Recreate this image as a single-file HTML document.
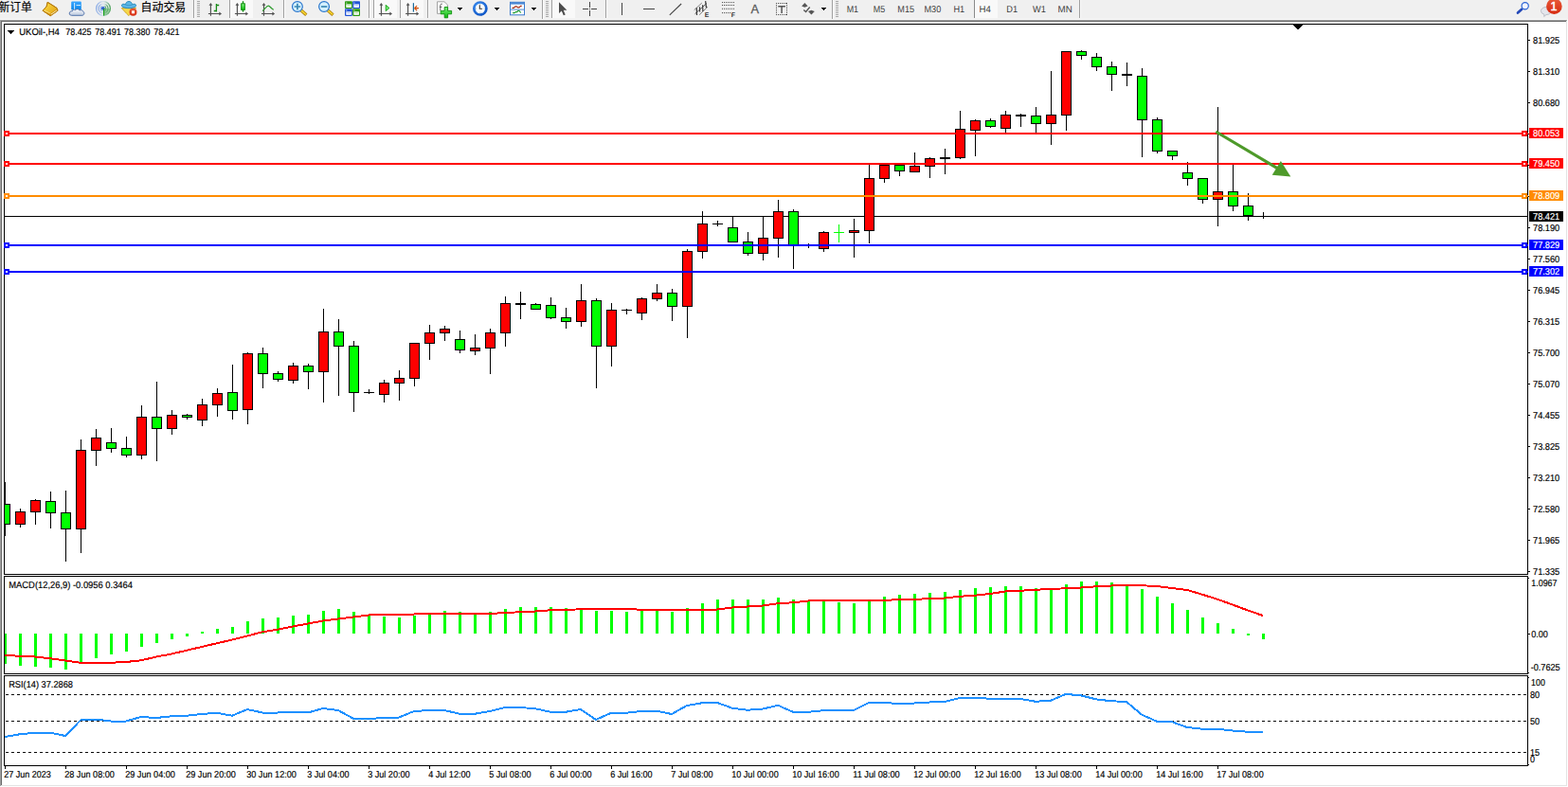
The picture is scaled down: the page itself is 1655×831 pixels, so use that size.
<!DOCTYPE html>
<html><head><meta charset="utf-8"><title>UKOil-,H4</title>
<style>
html,body{margin:0;padding:0;background:#f0f0f0;overflow:hidden}
body{width:1655px;height:831px;position:relative;font-family:"Liberation Sans", sans-serif}
svg{position:absolute;left:0;top:0;display:block}
.c text{font-family:"Liberation Sans", sans-serif;font-size:10px;fill:#000;stroke:#000;stroke-width:.18px;text-rendering:geometricPrecision}
.c text.w{fill:#fff;stroke:#fff}
</style></head><body>

<svg width="1655" height="21" viewBox="0 0 1655 21"><defs><linearGradient id="gy" x1="0" y1="0" x2="1" y2="1"><stop offset="0" stop-color="#ffe24a"/><stop offset="1" stop-color="#dc9a10"/></linearGradient><linearGradient id="gc" x1="0" y1="0" x2="0" y2="1"><stop offset="0" stop-color="#ffffff"/><stop offset="1" stop-color="#b9c6dc"/></linearGradient><linearGradient id="gb" x1="0" y1="0" x2="0" y2="1"><stop offset="0" stop-color="#3aa6ff"/><stop offset="1" stop-color="#0b86e8"/></linearGradient><linearGradient id="gg" x1="0" y1="0" x2="0" y2="1"><stop offset="0" stop-color="#7df07d"/><stop offset="1" stop-color="#08b808"/></linearGradient><linearGradient id="gr" x1="0" y1="0" x2="0" y2="1"><stop offset="0" stop-color="#e85a3a"/><stop offset="1" stop-color="#d62a10"/></linearGradient><radialGradient id="gk" cx="0.4" cy="0.35" r="0.8"><stop offset="0" stop-color="#4aa0ff"/><stop offset="1" stop-color="#0a4fc0"/></radialGradient><linearGradient id="gs" x1="0" y1="0" x2="1" y2="0"><stop offset="0" stop-color="#5a8ae0" stop-opacity=".7"/><stop offset=".5" stop-color="#b8d0e8" stop-opacity=".5"/><stop offset="1" stop-color="#3a9a4a" stop-opacity=".9"/></linearGradient></defs><rect width="1655" height="21" fill="#f0f0f0"/><text x="-1.6" y="12.4" font-family="&quot;Liberation Sans&quot;, &quot;Noto Sans CJK SC&quot;, sans-serif" font-size="12" fill="#000" stroke="#000" stroke-width=".17" textLength="35.4" lengthAdjust="spacingAndGlyphs">新订单</text><text x="148.6" y="12.4" font-family="&quot;Liberation Sans&quot;, &quot;Noto Sans CJK SC&quot;, sans-serif" font-size="12" fill="#000" stroke="#000" stroke-width=".17" textLength="47.6" lengthAdjust="spacingAndGlyphs">自动交易</text><path d="M50.2 2.3L59.9 8.4L61 11.2L53.2 16.7L45.1 11.2L49.1 6.8z" fill="url(#gy)" stroke="#b47a0c" stroke-width="1" stroke-linejoin="round"/><path d="M45.4 10.9L53.200 14.300L60.300 9.200L61 11.200L53.200 16.700z" fill="#d8960e"/><path d="M54 15.300L60.200 10.900" fill="none" stroke="#f8ecb8" stroke-width="1.100"/><path d="M46 10.700L53.200 14.200" fill="none" stroke="#fff0a0" stroke-width=".8" opacity=".9"/><path d="M50.200 2.300L59.900 8.400L61 11.200L53.200 16.700L45.100 11.200L49.100 6.800z" fill="none" stroke="#b47a0c" stroke-width=".9" stroke-linejoin="round"/><rect x="75.2" y="1.5" width="10.6" height="9" rx="1" fill="url(#gb)"/><path d="M78.6 3v7M80.5 5.6h4.5" stroke="#e8f6ff" stroke-width=".9" fill="none"/><path d="M75.6 16.3c-2.2 0-3-2-2-3.4c.6-1 1.8-1.3 2.6-1c.3-1.5 2.2-2.2 3.5-1.300c1-1.500 3.600-1.400 4.300.4c1.400-.9 3.300-.2 3.800 1.300c1.500.5 1.500 3.500-.9 4z" fill="url(#gc)" stroke="#4468a4" stroke-width=".9"/><g fill="none" stroke="url(#gs)"><circle cx="109" cy="9" r="7.4" stroke-width="1.2"/><circle cx="109" cy="9" r="5" stroke-width="1.2"/><circle cx="109" cy="9" r="2.8" stroke-width="1.1"/></g><path d="M109.5 9L116.600 9A7.600 7.600 0 0 1 109.500 16.600z" fill="#58b060" opacity=".55"/><circle cx="108.8" cy="8.8" r="1.9" fill="#2a5fd0"/><rect x="109" y="9" width="1.2" height="7.6" fill="#18a018"/><path d="M128.3 8.6L143.600 8.300L139 13.500L136 16.600L133.500 14.200z" fill="#f7d84a" stroke="#c89a10" stroke-width=".8"/><path d="M128.400 5.700c.2-1.600 2.200-1.900 4.100-.9c.2-2 1.500-3.300 3.500-3.300c2 0 3.300 1.300 3.500 3.300c1.900-1 3.900-.7 4.100.9c.2 1.700-3.500 3-7.600 3c-4.100 0-7.800-1.300-7.600-3z" fill="#5cb6e6" stroke="#2484b8" stroke-width=".9"/><path d="M132.600 5c1 .9 5.800.9 6.800 0" fill="none" stroke="#2484b8" stroke-width=".7" opacity=".8"/><circle cx="140.500" cy="12.800" r="4" fill="url(#gr)"/><rect x="139" y="11.300" width="3" height="3" fill="#fff"/><rect x="204" y="0" width="1" height="19" fill="#a0a0a0"/><rect x="205" y="0" width="1" height="19" fill="#fbfbfb"/><rect x="208" y="1" width="3" height="1" fill="#a8a8a8"/><rect x="208" y="3" width="3" height="1" fill="#a8a8a8"/><rect x="208" y="5" width="3" height="1" fill="#a8a8a8"/><rect x="208" y="7" width="3" height="1" fill="#a8a8a8"/><rect x="208" y="9" width="3" height="1" fill="#a8a8a8"/><rect x="208" y="11" width="3" height="1" fill="#a8a8a8"/><rect x="208" y="13" width="3" height="1" fill="#a8a8a8"/><rect x="208" y="15" width="3" height="1" fill="#a8a8a8"/><rect x="208" y="17" width="3" height="1" fill="#a8a8a8"/><g fill="none" stroke="#505050" stroke-width="1.15"><path d="M222.4 4.4V16.800M219.9 14.500H232.4"/></g><path d="M222.4 3l1.900 2.700h-3.800zM234.0 14.500l-2.700 1.900v-3.800z" fill="#505050"/><path d="M228.400 4v8.600M228.400 5.500h2.800M225.800 11.500h2.600" stroke="#188a18" stroke-width="1.300" fill="none"/><rect x="242" y="0" width="1" height="19" fill="#a0a0a0"/><rect x="243" y="0" width="1" height="19" fill="#fbfbfb"/><rect x="244" y="0" width="23" height="19" fill="#f9f9f9"/><g fill="none" stroke="#505050" stroke-width="1.15"><path d="M250.4 4.4V16.800M247.9 14.500H260.4"/></g><path d="M250.4 3l1.900 2.700h-3.800zM262.0 14.500l-2.700 1.900v-3.800z" fill="#505050"/><path d="M256.500 1.200v11.400" stroke="#0a8a0a" stroke-width="1.300"/><rect x="254.600" y="3.800" width="3.800" height="6.600" fill="url(#gg)" stroke="#0a8a0a" stroke-width=".9"/><g fill="none" stroke="#505050" stroke-width="1.15"><path d="M278.5 4.4V16.800M276.0 14.500H288.5"/></g><path d="M278.5 3l1.900 2.700h-3.800zM290.1 14.500l-2.700 1.900v-3.800z" fill="#505050"/><path d="M277.100 11.600C280 9 281.500 6.200 283.300 6.200C285 6.200 286.500 9.500 288.800 10.300" stroke="#2a9a2a" stroke-width="1.200" fill="none"/><rect x="299" y="0" width="1" height="19" fill="#a0a0a0"/><rect x="300" y="0" width="1" height="19" fill="#fbfbfb"/><path d="M317.4 10.500l5.900 5.200" stroke="#a87808" stroke-width="3.300"/><path d="M317.4 10.500l5.600 4.900" stroke="#f4d22e" stroke-width="1.900"/><circle cx="313.90" cy="7" r="5.400" fill="#d4f0ff" stroke="#2a76cc" stroke-width="1.200"/><path d="M310.7 7h6.400M313.9 3.800v6.400" stroke="#3a88b4" stroke-width="1.700" fill="none"/><path d="M345.6 10.500l5.900 5.200" stroke="#a87808" stroke-width="3.300"/><path d="M345.6 10.500l5.600 4.900" stroke="#f4d22e" stroke-width="1.900"/><circle cx="342.05" cy="7" r="5.400" fill="#d4f0ff" stroke="#2a76cc" stroke-width="1.200"/><path d="M338.9 7h6.400" stroke="#3a88b4" stroke-width="1.700" fill="none"/><rect x="364.0" y="1.3" width="7.900" height="7.700" rx=".8" fill="#2d9a12"/><rect x="365.3" y="4.4" width="5.500" height="3.500" fill="#fff"/><rect x="366.4" y="5.4" width="3.300" height=".9" fill="#a8e090"/><rect x="365.3" y="2.6" width="1" height="1" fill="#fff" opacity=".9"/><rect x="372.1" y="1.3" width="7.900" height="7.700" rx=".8" fill="#2254d6"/><rect x="373.4" y="4.4" width="5.500" height="3.500" fill="#fff"/><rect x="374.5" y="5.4" width="3.300" height=".9" fill="#a0b8f4"/><rect x="373.4" y="2.6" width="1" height="1" fill="#fff" opacity=".9"/><rect x="364.0" y="9.2" width="7.900" height="7.700" rx=".8" fill="#2254d6"/><rect x="365.3" y="12.3" width="5.500" height="3.500" fill="#fff"/><rect x="366.4" y="13.3" width="3.300" height=".9" fill="#a0b8f4"/><rect x="365.3" y="10.5" width="1" height="1" fill="#fff" opacity=".9"/><rect x="372.1" y="9.2" width="7.900" height="7.700" rx=".8" fill="#2d9a12"/><rect x="373.4" y="12.3" width="5.500" height="3.500" fill="#fff"/><rect x="374.5" y="13.3" width="3.300" height=".9" fill="#a8e090"/><rect x="373.4" y="10.5" width="1" height="1" fill="#fff" opacity=".9"/><rect x="389" y="0" width="1" height="19" fill="#a0a0a0"/><rect x="390" y="0" width="1" height="19" fill="#fbfbfb"/><rect x="394" y="0" width="1" height="19" fill="#a0a0a0"/><rect x="395" y="0" width="1" height="19" fill="#fbfbfb"/><rect x="396" y="0" width="23" height="19" fill="#f9f9f9"/><g fill="none" stroke="#505050" stroke-width="1.15"><path d="M402.4 4.4V16.800M399.9 14.500H412.4"/></g><path d="M402.4 3l1.900 2.700h-3.800zM414.0 14.500l-2.700 1.900v-3.800z" fill="#505050"/><path d="M407.200 5.300v6.300l3.700-3.100z" fill="#6fe86f" stroke="#12a012" stroke-width=".9"/><rect x="422" y="0" width="1" height="19" fill="#a0a0a0"/><rect x="423" y="0" width="1" height="19" fill="#fbfbfb"/><rect x="424" y="0" width="23" height="19" fill="#f9f9f9"/><g fill="none" stroke="#505050" stroke-width="1.15"><path d="M430.6 4.4V16.800M428.1 14.500H440.6"/></g><path d="M430.6 3l1.900 2.700h-3.800zM442.2 14.500l-2.700 1.900v-3.800z" fill="#505050"/><rect x="435.800" y="3.200" width="1.200" height="9.400" fill="#1a6a9a"/><path d="M437.400 8.600h4.500M437.400 8.600l2.700-2.500M437.400 8.600l2.700 2.500" stroke="#d24a00" stroke-width="1.200" fill="none"/><rect x="451" y="0" width="1" height="19" fill="#a0a0a0"/><rect x="452" y="0" width="1" height="19" fill="#fbfbfb"/><path d="M461.500 1.800h7.500l3.500 3.300v9.300h-11z" fill="#fdfdfd" stroke="#9a9a9a" stroke-width=".9"/><path d="M466.800 4.200c-1.400-.3-2 .4-2 1.600v5.500M463.800 7.400h2.500" stroke="#555" stroke-width=".9" fill="none"/><path d="M469.200 7.500h3.400v3.900h4v3.400h-4v4h-3.400v-4h-4v-3.400h4z" fill="url(#gg)" stroke="#0a900a" stroke-width=".9"/><path d="M483 8h5v1h-1v1h-1v1h-1v-1h-1v-1h-1z" fill="#000" shape-rendering="crispEdges"/><circle cx="506.850" cy="9" r="6.500" fill="#fdfdfd" stroke="url(#gk)" stroke-width="2.700"/><path d="M506.300 5.200v4h2.800" stroke="#333" stroke-width="1.100" fill="none"/><g fill="#8aa"><rect x="506.400" y="4.300" width=".9" height=".9"/><rect x="506.400" y="12.800" width=".9" height=".9"/><rect x="502.200" y="8.600" width=".9" height=".9"/><rect x="510.600" y="8.600" width=".9" height=".9"/></g><path d="M522 8h5v1h-1v1h-1v1h-1v-1h-1v-1h-1z" fill="#000" shape-rendering="crispEdges"/><rect x="538.500" y="2.300" width="15" height="13.500" fill="#fff" stroke="#3a7acc" stroke-width="1"/><rect x="538.500" y="2.300" width="15" height="2.300" fill="#4a88d4"/><rect x="538.500" y="9.600" width="15" height="1" fill="#4a88d4"/><path d="M540.500 8.400h1.800l1.500-1.500h1.500l1.300 1h1.400l1.500-1.500h1.200" stroke="#a82a10" stroke-width="1.100" fill="none"/><path d="M541.200 13.600h1.800l1.300-1h1.400l1.200-1.300h1l1.900 2.200" stroke="#1a9a2a" stroke-width="1.100" fill="none"/><path d="M561 8h5v1h-1v1h-1v1h-1v-1h-1v-1h-1z" fill="#000" shape-rendering="crispEdges"/><rect x="572" y="0" width="1" height="21" fill="#a0a0a0"/><rect x="573" y="0" width="1" height="21" fill="#fbfbfb"/><rect x="576" y="1" width="3" height="1" fill="#a8a8a8"/><rect x="576" y="3" width="3" height="1" fill="#a8a8a8"/><rect x="576" y="5" width="3" height="1" fill="#a8a8a8"/><rect x="576" y="7" width="3" height="1" fill="#a8a8a8"/><rect x="576" y="9" width="3" height="1" fill="#a8a8a8"/><rect x="576" y="11" width="3" height="1" fill="#a8a8a8"/><rect x="576" y="13" width="3" height="1" fill="#a8a8a8"/><rect x="576" y="15" width="3" height="1" fill="#a8a8a8"/><rect x="576" y="17" width="3" height="1" fill="#a8a8a8"/><rect x="582" y="0" width="1" height="19" fill="#a0a0a0"/><rect x="583" y="0" width="1" height="19" fill="#fbfbfb"/><rect x="584" y="0" width="23" height="19" fill="#f9f9f9"/><path d="M590 2.200v11.800l2.800-2.600l2 4.800l1.900-.8l-2-4.700h3.700z" fill="#4c4c4c"/><path d="M615 9.500h6M624 9.500h6M622.500 2v6M622.500 11v6" stroke="#444" stroke-width="1"/><rect x="622" y="9" width="1" height="1" fill="#444"/><rect x="639" y="0" width="1" height="19" fill="#a0a0a0"/><rect x="640" y="0" width="1" height="19" fill="#fbfbfb"/><rect x="656" y="3" width="1" height="13" fill="#444"/><rect x="679" y="9" width="12" height="1" fill="#444"/><path d="M706.800 15.900L719.100 4" stroke="#444" stroke-width="1.100"/><g fill="none"><path d="M732.700 10.600L740.800 3.100M738.100 15.700L747 7.200" stroke="#5a5a5a" stroke-width=".75"/><path d="M733.600 14.600L746 3.400" stroke="#484848" stroke-width=".9"/><path d="M735.300 8.200L735.500 15.900M738.500 7.200L738.600 12.500M741.600 5.200L741.900 12M744.600 1.100L745.500 8.200" stroke="#3c3c3c" stroke-width="1.250"/></g><text x="743.700" y="17.900" font-family="Liberation Sans,sans-serif" font-weight="bold" font-size="6.800" fill="#333" style="text-rendering:geometricPrecision">E</text><path d="M762 2.6H775" stroke="#444" stroke-width="1" stroke-dasharray="1 1"/><path d="M762 5.5H775" stroke="#444" stroke-width="1" stroke-dasharray="1 1"/><path d="M762 9.3H775" stroke="#444" stroke-width="1" stroke-dasharray="1 1"/><path d="M762 13.6H771" stroke="#444" stroke-width="1" stroke-dasharray="1 1"/><text x="771.800" y="17.900" font-family="Liberation Sans,sans-serif" font-weight="bold" font-size="6.800" fill="#333" style="text-rendering:geometricPrecision">F</text><text x="792.400" y="13.900" font-family="Liberation Sans,sans-serif" font-size="12.800" fill="#5a5a5a" stroke="#5a5a5a" stroke-width=".3">A</text><path d="M819 3.500H831M819 15.500H831M819.500 3V16M830.500 3V16" fill="none" stroke="#4a4a4a" stroke-width="1" stroke-dasharray="1 1" shape-rendering="crispEdges"/><path d="M821.300 6.700h7.600M825.100 6.700v7.200" stroke="#555" stroke-width="1.500" fill="none"/><path d="M846.200 6.500l3.200-3.500l3.200 3.500l-3.200 1.200z" fill="#555"/><path d="M853 12l3.400-1.200l3.400 1.200l-3.400 3.600z" fill="#555"/><path d="M848.300 10.400l2.300 2.100l4.100-5" stroke="#555" stroke-width="1.300" fill="none"/><path d="M867 8h5v1h-1v1h-1v1h-1v-1h-1v-1h-1z" fill="#000" shape-rendering="crispEdges"/><rect x="878" y="0" width="1" height="21" fill="#a0a0a0"/><rect x="879" y="0" width="1" height="21" fill="#fbfbfb"/><rect x="882" y="1" width="3" height="1" fill="#a8a8a8"/><rect x="882" y="3" width="3" height="1" fill="#a8a8a8"/><rect x="882" y="5" width="3" height="1" fill="#a8a8a8"/><rect x="882" y="7" width="3" height="1" fill="#a8a8a8"/><rect x="882" y="9" width="3" height="1" fill="#a8a8a8"/><rect x="882" y="11" width="3" height="1" fill="#a8a8a8"/><rect x="882" y="13" width="3" height="1" fill="#a8a8a8"/><rect x="882" y="15" width="3" height="1" fill="#a8a8a8"/><rect x="882" y="17" width="3" height="1" fill="#a8a8a8"/><rect x="1029" y="0" width="24" height="19" fill="#f9f9f9"/><rect x="1028" y="0" width="1" height="19" fill="#8a8a8a"/><text x="893.7" y="12.600" font-family="Liberation Sans,sans-serif" font-size="10" fill="#3c3c3c" style="text-rendering:geometricPrecision" textLength="12.4" lengthAdjust="spacingAndGlyphs">M1</text><text x="921.8" y="12.600" font-family="Liberation Sans,sans-serif" font-size="10" fill="#3c3c3c" style="text-rendering:geometricPrecision" textLength="12.4" lengthAdjust="spacingAndGlyphs">M5</text><text x="947.3" y="12.600" font-family="Liberation Sans,sans-serif" font-size="10" fill="#3c3c3c" style="text-rendering:geometricPrecision" textLength="17.7" lengthAdjust="spacingAndGlyphs">M15</text><text x="975.5" y="12.600" font-family="Liberation Sans,sans-serif" font-size="10" fill="#3c3c3c" style="text-rendering:geometricPrecision" textLength="17.8" lengthAdjust="spacingAndGlyphs">M30</text><text x="1006.4" y="12.600" font-family="Liberation Sans,sans-serif" font-size="10" fill="#3c3c3c" style="text-rendering:geometricPrecision" textLength="11.7" lengthAdjust="spacingAndGlyphs">H1</text><text x="1033.6" y="12.600" font-family="Liberation Sans,sans-serif" font-size="10" fill="#3c3c3c" style="text-rendering:geometricPrecision" textLength="12.3" lengthAdjust="spacingAndGlyphs">H4</text><text x="1062.3" y="12.600" font-family="Liberation Sans,sans-serif" font-size="10" fill="#3c3c3c" style="text-rendering:geometricPrecision" textLength="11.8" lengthAdjust="spacingAndGlyphs">D1</text><text x="1090.1" y="12.600" font-family="Liberation Sans,sans-serif" font-size="10" fill="#3c3c3c" style="text-rendering:geometricPrecision" textLength="13.8" lengthAdjust="spacingAndGlyphs">W1</text><text x="1116.6" y="12.600" font-family="Liberation Sans,sans-serif" font-size="10" fill="#3c3c3c" style="text-rendering:geometricPrecision" textLength="15.2" lengthAdjust="spacingAndGlyphs">MN</text><rect x="1139" y="0" width="1" height="19" fill="#a0a0a0"/><rect x="1140" y="0" width="1" height="19" fill="#fbfbfb"/><path d="M1606.200 9.700L1602 13.500" stroke="#2348b8" stroke-width="2.700" stroke-linecap="round"/><circle cx="1609.700" cy="6.300" r="3.600" fill="#f4f6ff" stroke="#2a62d4" stroke-width="1.200"/><path d="M1626.500 11.500a5.500 4 0 1 1 5.500 4l-2.300 2l.2-2.200a5.500 4 0 0 1-3.400-3.800z" fill="#e4e6ec" stroke="#b0b4bc" stroke-width=".8"/><circle cx="1640.400" cy="6.700" r="8.300" fill="url(#gr)"/><text x="1636.600" y="11" font-family="Liberation Sans,sans-serif" font-size="12.500" fill="#fff" stroke="#fff" stroke-width=".5">1</text></svg>
<svg class="c" width="1655" height="831" viewBox="0 0 1655 831">
<g shape-rendering="crispEdges">
<rect x="0" y="21" width="1655" height="810" fill="#fff"/>
<rect x="0" y="20" width="1655" height="1" fill="#f8f8f8"/>
<rect x="0" y="21" width="1654" height="1" fill="#a0a0a0"/>
<rect x="1" y="22" width="1653" height="1" fill="#696969"/>
<rect x="0" y="21" width="1" height="809" fill="#a0a0a0"/>
<rect x="1" y="22" width="1" height="807" fill="#696969"/>
<rect x="1653" y="22" width="1" height="808" fill="#e3e3e3"/>
<rect x="1" y="829" width="1653" height="1" fill="#e3e3e3"/>
<rect x="4" y="25" width="1609" height="1" fill="#000"/>
<rect x="4" y="606" width="1609" height="1" fill="#000"/>
<rect x="4" y="608" width="1609" height="1" fill="#000"/>
<rect x="4" y="711" width="1609" height="1" fill="#000"/>
<rect x="4" y="713" width="1609" height="1" fill="#000"/>
<rect x="4" y="808" width="1609" height="1" fill="#000"/>
<rect x="4" y="25" width="1" height="582" fill="#000"/>
<rect x="1612" y="25" width="1" height="582" fill="#000"/>
<rect x="4" y="608" width="1" height="104" fill="#000"/>
<rect x="1612" y="608" width="1" height="104" fill="#000"/>
<rect x="4" y="713" width="1" height="96" fill="#000"/>
<rect x="1612" y="713" width="1" height="96" fill="#000"/>
<rect x="1365" y="26" width="10" height="1" fill="#000"/>
<rect x="1366" y="27" width="8" height="1" fill="#000"/>
<rect x="1367" y="28" width="6" height="1" fill="#000"/>
<rect x="1368" y="29" width="4" height="1" fill="#000"/>
<rect x="1369" y="30" width="2" height="1" fill="#000"/>
<rect x="1613" y="42" width="2" height="1" fill="#000"/>
<rect x="1613" y="75" width="2" height="1" fill="#000"/>
<rect x="1613" y="108" width="2" height="1" fill="#000"/>
<rect x="1613" y="240" width="2" height="1" fill="#000"/>
<rect x="1613" y="273" width="2" height="1" fill="#000"/>
<rect x="1613" y="306" width="2" height="1" fill="#000"/>
<rect x="1613" y="339" width="2" height="1" fill="#000"/>
<rect x="1613" y="372" width="2" height="1" fill="#000"/>
<rect x="1613" y="405" width="2" height="1" fill="#000"/>
<rect x="1613" y="438" width="2" height="1" fill="#000"/>
<rect x="1613" y="471" width="2" height="1" fill="#000"/>
<rect x="1613" y="504" width="2" height="1" fill="#000"/>
<rect x="1613" y="537" width="2" height="1" fill="#000"/>
<rect x="1613" y="570" width="2" height="1" fill="#000"/>
<rect x="1613" y="603" width="2" height="1" fill="#000"/>
<rect x="1613" y="141" width="2" height="1" fill="#000"/>
<rect x="1613" y="174" width="2" height="1" fill="#000"/>
<rect x="1613" y="207" width="2" height="1" fill="#000"/>
<rect x="1613" y="610" width="1" height="1" fill="#000"/>
<rect x="1613" y="669" width="2" height="1" fill="#000"/>
<rect x="1613" y="710" width="1" height="1" fill="#000"/>
<rect x="1613" y="715" width="1" height="1" fill="#000"/>
<rect x="1613" y="807" width="1" height="1" fill="#000"/>
<rect x="5" y="228" width="1607" height="1" fill="#000"/>
<rect x="5" y="509" width="1" height="57" fill="#000"/>
<rect x="5" y="532" width="6" height="22" fill="#000"/>
<rect x="5" y="533" width="5" height="20" fill="#00ff00"/>
<rect x="21" y="537" width="1" height="20" fill="#000"/>
<rect x="16" y="540" width="11" height="14" fill="#000"/>
<rect x="17" y="541" width="9" height="12" fill="#ff0000"/>
<rect x="37" y="527" width="1" height="27" fill="#000"/>
<rect x="32" y="528" width="11" height="13" fill="#000"/>
<rect x="33" y="529" width="9" height="11" fill="#ff0000"/>
<rect x="53" y="519" width="1" height="39" fill="#000"/>
<rect x="48" y="529" width="11" height="13" fill="#000"/>
<rect x="49" y="530" width="9" height="11" fill="#00ff00"/>
<rect x="69" y="518" width="1" height="75" fill="#000"/>
<rect x="64" y="541" width="11" height="18" fill="#000"/>
<rect x="65" y="542" width="9" height="16" fill="#00ff00"/>
<rect x="85" y="464" width="1" height="120" fill="#000"/>
<rect x="80" y="475" width="11" height="84" fill="#000"/>
<rect x="81" y="476" width="9" height="82" fill="#ff0000"/>
<rect x="101" y="453" width="1" height="39" fill="#000"/>
<rect x="96" y="462" width="11" height="14" fill="#000"/>
<rect x="97" y="463" width="9" height="12" fill="#ff0000"/>
<rect x="117" y="452" width="1" height="26" fill="#000"/>
<rect x="112" y="467" width="11" height="7" fill="#000"/>
<rect x="113" y="468" width="9" height="5" fill="#00ff00"/>
<rect x="133" y="461" width="1" height="22" fill="#000"/>
<rect x="128" y="473" width="11" height="8" fill="#000"/>
<rect x="129" y="474" width="9" height="6" fill="#00ff00"/>
<rect x="149" y="428" width="1" height="57" fill="#000"/>
<rect x="144" y="440" width="11" height="41" fill="#000"/>
<rect x="145" y="441" width="9" height="39" fill="#ff0000"/>
<rect x="165" y="403" width="1" height="84" fill="#000"/>
<rect x="160" y="440" width="11" height="13" fill="#000"/>
<rect x="161" y="441" width="9" height="11" fill="#00ff00"/>
<rect x="181" y="433" width="1" height="26" fill="#000"/>
<rect x="176" y="438" width="11" height="15" fill="#000"/>
<rect x="177" y="439" width="9" height="13" fill="#ff0000"/>
<rect x="197" y="437" width="1" height="6" fill="#000"/>
<rect x="192" y="438" width="11" height="3" fill="#000"/>
<rect x="193" y="439" width="9" height="1" fill="#00ff00"/>
<rect x="213" y="421" width="1" height="29" fill="#000"/>
<rect x="208" y="427" width="11" height="17" fill="#000"/>
<rect x="209" y="428" width="9" height="15" fill="#ff0000"/>
<rect x="229" y="410" width="1" height="30" fill="#000"/>
<rect x="224" y="415" width="11" height="13" fill="#000"/>
<rect x="225" y="416" width="9" height="11" fill="#ff0000"/>
<rect x="245" y="385" width="1" height="58" fill="#000"/>
<rect x="240" y="414" width="11" height="20" fill="#000"/>
<rect x="241" y="415" width="9" height="18" fill="#00ff00"/>
<rect x="261" y="372" width="1" height="76" fill="#000"/>
<rect x="256" y="373" width="11" height="60" fill="#000"/>
<rect x="257" y="374" width="9" height="58" fill="#ff0000"/>
<rect x="277" y="367" width="1" height="43" fill="#000"/>
<rect x="272" y="373" width="11" height="22" fill="#000"/>
<rect x="273" y="374" width="9" height="20" fill="#00ff00"/>
<rect x="293" y="392" width="1" height="11" fill="#000"/>
<rect x="288" y="394" width="11" height="7" fill="#000"/>
<rect x="289" y="395" width="9" height="5" fill="#00ff00"/>
<rect x="309" y="383" width="1" height="22" fill="#000"/>
<rect x="304" y="386" width="11" height="16" fill="#000"/>
<rect x="305" y="387" width="9" height="14" fill="#ff0000"/>
<rect x="325" y="384" width="1" height="27" fill="#000"/>
<rect x="320" y="386" width="11" height="7" fill="#000"/>
<rect x="321" y="387" width="9" height="5" fill="#00ff00"/>
<rect x="341" y="326" width="1" height="99" fill="#000"/>
<rect x="336" y="350" width="11" height="43" fill="#000"/>
<rect x="337" y="351" width="9" height="41" fill="#ff0000"/>
<rect x="357" y="337" width="1" height="81" fill="#000"/>
<rect x="352" y="350" width="11" height="16" fill="#000"/>
<rect x="353" y="351" width="9" height="14" fill="#00ff00"/>
<rect x="373" y="360" width="1" height="75" fill="#000"/>
<rect x="368" y="365" width="11" height="50" fill="#000"/>
<rect x="369" y="366" width="9" height="48" fill="#00ff00"/>
<rect x="389" y="411" width="1" height="5" fill="#000"/>
<rect x="384" y="414" width="11" height="1" fill="#000"/>
<rect x="405" y="401" width="1" height="24" fill="#000"/>
<rect x="400" y="404" width="11" height="13" fill="#000"/>
<rect x="401" y="405" width="9" height="11" fill="#ff0000"/>
<rect x="421" y="391" width="1" height="32" fill="#000"/>
<rect x="416" y="399" width="11" height="6" fill="#000"/>
<rect x="417" y="400" width="9" height="4" fill="#ff0000"/>
<rect x="437" y="362" width="1" height="46" fill="#000"/>
<rect x="432" y="362" width="11" height="38" fill="#000"/>
<rect x="433" y="363" width="9" height="36" fill="#ff0000"/>
<rect x="453" y="343" width="1" height="37" fill="#000"/>
<rect x="448" y="351" width="11" height="12" fill="#000"/>
<rect x="449" y="352" width="9" height="10" fill="#ff0000"/>
<rect x="469" y="344" width="1" height="16" fill="#000"/>
<rect x="464" y="347" width="11" height="5" fill="#000"/>
<rect x="465" y="348" width="9" height="3" fill="#ff0000"/>
<rect x="485" y="349" width="1" height="24" fill="#000"/>
<rect x="480" y="358" width="11" height="12" fill="#000"/>
<rect x="481" y="359" width="9" height="10" fill="#00ff00"/>
<rect x="501" y="353" width="1" height="22" fill="#000"/>
<rect x="496" y="367" width="11" height="4" fill="#000"/>
<rect x="497" y="368" width="9" height="2" fill="#ff0000"/>
<rect x="517" y="347" width="1" height="48" fill="#000"/>
<rect x="512" y="351" width="11" height="17" fill="#000"/>
<rect x="513" y="352" width="9" height="15" fill="#ff0000"/>
<rect x="533" y="313" width="1" height="53" fill="#000"/>
<rect x="528" y="320" width="11" height="32" fill="#000"/>
<rect x="529" y="321" width="9" height="30" fill="#ff0000"/>
<rect x="549" y="308" width="1" height="29" fill="#000"/>
<rect x="544" y="320" width="11" height="2" fill="#000"/>
<rect x="565" y="320" width="1" height="7" fill="#000"/>
<rect x="560" y="321" width="11" height="6" fill="#000"/>
<rect x="561" y="322" width="9" height="4" fill="#00ff00"/>
<rect x="581" y="314" width="1" height="23" fill="#000"/>
<rect x="576" y="322" width="11" height="14" fill="#000"/>
<rect x="577" y="323" width="9" height="12" fill="#00ff00"/>
<rect x="597" y="325" width="1" height="22" fill="#000"/>
<rect x="592" y="335" width="11" height="5" fill="#000"/>
<rect x="593" y="336" width="9" height="3" fill="#00ff00"/>
<rect x="613" y="300" width="1" height="45" fill="#000"/>
<rect x="608" y="317" width="11" height="23" fill="#000"/>
<rect x="609" y="318" width="9" height="21" fill="#ff0000"/>
<rect x="629" y="315" width="1" height="95" fill="#000"/>
<rect x="624" y="317" width="11" height="49" fill="#000"/>
<rect x="625" y="318" width="9" height="47" fill="#00ff00"/>
<rect x="645" y="320" width="1" height="67" fill="#000"/>
<rect x="640" y="327" width="11" height="39" fill="#000"/>
<rect x="641" y="328" width="9" height="37" fill="#ff0000"/>
<rect x="661" y="326" width="1" height="6" fill="#000"/>
<rect x="656" y="327" width="11" height="1" fill="#000"/>
<rect x="677" y="314" width="1" height="24" fill="#000"/>
<rect x="672" y="315" width="11" height="16" fill="#000"/>
<rect x="673" y="316" width="9" height="14" fill="#ff0000"/>
<rect x="693" y="300" width="1" height="18" fill="#000"/>
<rect x="688" y="309" width="11" height="7" fill="#000"/>
<rect x="689" y="310" width="9" height="5" fill="#ff0000"/>
<rect x="709" y="305" width="1" height="34" fill="#000"/>
<rect x="704" y="309" width="11" height="15" fill="#000"/>
<rect x="705" y="310" width="9" height="13" fill="#00ff00"/>
<rect x="725" y="263" width="1" height="94" fill="#000"/>
<rect x="720" y="265" width="11" height="59" fill="#000"/>
<rect x="721" y="266" width="9" height="57" fill="#ff0000"/>
<rect x="741" y="223" width="1" height="50" fill="#000"/>
<rect x="736" y="236" width="11" height="30" fill="#000"/>
<rect x="737" y="237" width="9" height="28" fill="#ff0000"/>
<rect x="757" y="233" width="1" height="6" fill="#000"/>
<rect x="752" y="236" width="11" height="1" fill="#000"/>
<rect x="773" y="229" width="1" height="27" fill="#000"/>
<rect x="768" y="240" width="11" height="16" fill="#000"/>
<rect x="769" y="241" width="9" height="14" fill="#00ff00"/>
<rect x="789" y="245" width="1" height="25" fill="#000"/>
<rect x="784" y="255" width="11" height="13" fill="#000"/>
<rect x="785" y="256" width="9" height="11" fill="#00ff00"/>
<rect x="805" y="229" width="1" height="46" fill="#000"/>
<rect x="800" y="251" width="11" height="17" fill="#000"/>
<rect x="801" y="252" width="9" height="15" fill="#ff0000"/>
<rect x="821" y="211" width="1" height="61" fill="#000"/>
<rect x="816" y="223" width="11" height="29" fill="#000"/>
<rect x="817" y="224" width="9" height="27" fill="#ff0000"/>
<rect x="837" y="221" width="1" height="63" fill="#000"/>
<rect x="832" y="223" width="11" height="36" fill="#000"/>
<rect x="833" y="224" width="9" height="34" fill="#00ff00"/>
<rect x="853" y="257" width="1" height="5" fill="#000"/>
<rect x="848" y="258" width="11" height="1" fill="#000"/>
<rect x="869" y="244" width="1" height="22" fill="#000"/>
<rect x="864" y="245" width="11" height="18" fill="#000"/>
<rect x="865" y="246" width="9" height="16" fill="#ff0000"/>
<rect x="885" y="237" width="1" height="19" fill="#00ff00"/>
<rect x="880" y="245" width="11" height="1" fill="#00ff00"/>
<rect x="901" y="231" width="1" height="41" fill="#000"/>
<rect x="896" y="243" width="11" height="3" fill="#000"/>
<rect x="897" y="244" width="9" height="1" fill="#ff0000"/>
<rect x="917" y="173" width="1" height="84" fill="#000"/>
<rect x="912" y="188" width="11" height="56" fill="#000"/>
<rect x="913" y="189" width="9" height="54" fill="#ff0000"/>
<rect x="933" y="173" width="1" height="20" fill="#000"/>
<rect x="928" y="174" width="11" height="15" fill="#000"/>
<rect x="929" y="175" width="9" height="13" fill="#ff0000"/>
<rect x="949" y="173" width="1" height="13" fill="#000"/>
<rect x="944" y="174" width="11" height="7" fill="#000"/>
<rect x="945" y="175" width="9" height="5" fill="#00ff00"/>
<rect x="965" y="161" width="1" height="21" fill="#000"/>
<rect x="960" y="175" width="11" height="7" fill="#000"/>
<rect x="961" y="176" width="9" height="5" fill="#ff0000"/>
<rect x="981" y="166" width="1" height="22" fill="#000"/>
<rect x="976" y="167" width="11" height="9" fill="#000"/>
<rect x="977" y="168" width="9" height="7" fill="#ff0000"/>
<rect x="997" y="157" width="1" height="27" fill="#000"/>
<rect x="992" y="166" width="11" height="2" fill="#000"/>
<rect x="1013" y="117" width="1" height="51" fill="#000"/>
<rect x="1008" y="136" width="11" height="31" fill="#000"/>
<rect x="1009" y="137" width="9" height="29" fill="#ff0000"/>
<rect x="1029" y="126" width="1" height="39" fill="#000"/>
<rect x="1024" y="127" width="11" height="11" fill="#000"/>
<rect x="1025" y="128" width="9" height="9" fill="#ff0000"/>
<rect x="1045" y="125" width="1" height="10" fill="#000"/>
<rect x="1040" y="127" width="11" height="7" fill="#000"/>
<rect x="1041" y="128" width="9" height="5" fill="#00ff00"/>
<rect x="1061" y="117" width="1" height="23" fill="#000"/>
<rect x="1056" y="121" width="11" height="15" fill="#000"/>
<rect x="1057" y="122" width="9" height="13" fill="#ff0000"/>
<rect x="1077" y="120" width="1" height="14" fill="#000"/>
<rect x="1072" y="121" width="11" height="2" fill="#000"/>
<rect x="1093" y="113" width="1" height="28" fill="#000"/>
<rect x="1088" y="122" width="11" height="9" fill="#000"/>
<rect x="1089" y="123" width="9" height="7" fill="#00ff00"/>
<rect x="1109" y="75" width="1" height="78" fill="#000"/>
<rect x="1104" y="121" width="11" height="10" fill="#000"/>
<rect x="1105" y="122" width="9" height="8" fill="#ff0000"/>
<rect x="1125" y="54" width="1" height="84" fill="#000"/>
<rect x="1120" y="54" width="11" height="68" fill="#000"/>
<rect x="1121" y="55" width="9" height="66" fill="#ff0000"/>
<rect x="1141" y="53" width="1" height="10" fill="#000"/>
<rect x="1136" y="54" width="11" height="5" fill="#000"/>
<rect x="1137" y="55" width="9" height="3" fill="#00ff00"/>
<rect x="1157" y="56" width="1" height="19" fill="#000"/>
<rect x="1152" y="60" width="11" height="11" fill="#000"/>
<rect x="1153" y="61" width="9" height="9" fill="#00ff00"/>
<rect x="1173" y="65" width="1" height="31" fill="#000"/>
<rect x="1168" y="70" width="11" height="9" fill="#000"/>
<rect x="1169" y="71" width="9" height="7" fill="#00ff00"/>
<rect x="1189" y="66" width="1" height="25" fill="#000"/>
<rect x="1184" y="78" width="11" height="2" fill="#000"/>
<rect x="1205" y="72" width="1" height="94" fill="#000"/>
<rect x="1200" y="80" width="11" height="47" fill="#000"/>
<rect x="1201" y="81" width="9" height="45" fill="#00ff00"/>
<rect x="1221" y="124" width="1" height="38" fill="#000"/>
<rect x="1216" y="126" width="11" height="34" fill="#000"/>
<rect x="1217" y="127" width="9" height="32" fill="#00ff00"/>
<rect x="1237" y="159" width="1" height="10" fill="#000"/>
<rect x="1232" y="159" width="11" height="6" fill="#000"/>
<rect x="1233" y="160" width="9" height="4" fill="#00ff00"/>
<rect x="1253" y="171" width="1" height="25" fill="#000"/>
<rect x="1248" y="182" width="11" height="7" fill="#000"/>
<rect x="1249" y="183" width="9" height="5" fill="#00ff00"/>
<rect x="1269" y="188" width="1" height="27" fill="#000"/>
<rect x="1264" y="188" width="11" height="23" fill="#000"/>
<rect x="1265" y="189" width="9" height="21" fill="#00ff00"/>
<rect x="1285" y="113" width="1" height="126" fill="#000"/>
<rect x="1280" y="202" width="11" height="9" fill="#000"/>
<rect x="1281" y="203" width="9" height="7" fill="#ff0000"/>
<rect x="1301" y="173" width="1" height="50" fill="#000"/>
<rect x="1296" y="202" width="11" height="16" fill="#000"/>
<rect x="1297" y="203" width="9" height="14" fill="#00ff00"/>
<rect x="1317" y="204" width="1" height="29" fill="#000"/>
<rect x="1312" y="217" width="11" height="11" fill="#000"/>
<rect x="1313" y="218" width="9" height="9" fill="#00ff00"/>
<rect x="1333" y="224" width="1" height="7" fill="#000"/>
<rect x="1328" y="228" width="11" height="1" fill="#000"/>
<rect x="5" y="140" width="1608" height="2" fill="#ff0000"/>
<rect x="4" y="138" width="6" height="6" fill="#ff0000"/>
<rect x="6" y="140" width="2" height="2" fill="#fff"/>
<rect x="1606" y="138" width="6" height="6" fill="#ff0000"/>
<rect x="1608" y="140" width="2" height="2" fill="#fff"/>
<rect x="5" y="172" width="1608" height="2" fill="#ff0000"/>
<rect x="4" y="170" width="6" height="6" fill="#ff0000"/>
<rect x="6" y="172" width="2" height="2" fill="#fff"/>
<rect x="1606" y="170" width="6" height="6" fill="#ff0000"/>
<rect x="1608" y="172" width="2" height="2" fill="#fff"/>
<rect x="5" y="206" width="1608" height="2" fill="#ff8c00"/>
<rect x="4" y="204" width="6" height="6" fill="#ff8c00"/>
<rect x="6" y="206" width="2" height="2" fill="#fff"/>
<rect x="1606" y="204" width="6" height="6" fill="#ff8c00"/>
<rect x="1608" y="206" width="2" height="2" fill="#fff"/>
<rect x="5" y="258" width="1608" height="2" fill="#0000ff"/>
<rect x="4" y="256" width="6" height="6" fill="#0000ff"/>
<rect x="6" y="258" width="2" height="2" fill="#fff"/>
<rect x="1606" y="256" width="6" height="6" fill="#0000ff"/>
<rect x="1608" y="258" width="2" height="2" fill="#fff"/>
<rect x="5" y="286" width="1608" height="2" fill="#0000ff"/>
<rect x="4" y="284" width="6" height="6" fill="#0000ff"/>
<rect x="6" y="286" width="2" height="2" fill="#fff"/>
<rect x="1606" y="284" width="6" height="6" fill="#0000ff"/>
<rect x="1608" y="286" width="2" height="2" fill="#fff"/>
<rect x="1614" y="135" width="36" height="11" fill="#ff0000"/>
<rect x="1614" y="167" width="36" height="11" fill="#ff0000"/>
<rect x="1614" y="201" width="36" height="11" fill="#ff8c00"/>
<rect x="1614" y="223" width="36" height="11" fill="#000000"/>
<rect x="1614" y="253" width="36" height="11" fill="#0000ff"/>
<rect x="1614" y="281" width="36" height="11" fill="#0000ff"/>
<rect x="5" y="669" width="2" height="32" fill="#00ff00"/>
<rect x="20" y="669" width="3" height="34" fill="#00ff00"/>
<rect x="36" y="669" width="3" height="35" fill="#00ff00"/>
<rect x="52" y="669" width="3" height="36" fill="#00ff00"/>
<rect x="68" y="669" width="3" height="38" fill="#00ff00"/>
<rect x="84" y="669" width="3" height="31" fill="#00ff00"/>
<rect x="100" y="669" width="3" height="26" fill="#00ff00"/>
<rect x="116" y="669" width="3" height="22" fill="#00ff00"/>
<rect x="132" y="669" width="3" height="19" fill="#00ff00"/>
<rect x="148" y="669" width="3" height="14" fill="#00ff00"/>
<rect x="164" y="669" width="3" height="10" fill="#00ff00"/>
<rect x="180" y="669" width="3" height="6" fill="#00ff00"/>
<rect x="196" y="669" width="3" height="3" fill="#00ff00"/>
<rect x="212" y="667" width="3" height="2" fill="#00ff00"/>
<rect x="228" y="664" width="3" height="5" fill="#00ff00"/>
<rect x="244" y="662" width="3" height="7" fill="#00ff00"/>
<rect x="260" y="656" width="3" height="13" fill="#00ff00"/>
<rect x="276" y="653" width="3" height="16" fill="#00ff00"/>
<rect x="292" y="652" width="3" height="17" fill="#00ff00"/>
<rect x="308" y="650" width="3" height="19" fill="#00ff00"/>
<rect x="324" y="649" width="3" height="20" fill="#00ff00"/>
<rect x="340" y="645" width="3" height="24" fill="#00ff00"/>
<rect x="356" y="643" width="3" height="26" fill="#00ff00"/>
<rect x="372" y="646" width="3" height="23" fill="#00ff00"/>
<rect x="388" y="650" width="3" height="19" fill="#00ff00"/>
<rect x="404" y="651" width="3" height="18" fill="#00ff00"/>
<rect x="420" y="652" width="3" height="17" fill="#00ff00"/>
<rect x="436" y="650" width="3" height="19" fill="#00ff00"/>
<rect x="452" y="649" width="3" height="20" fill="#00ff00"/>
<rect x="468" y="645" width="3" height="24" fill="#00ff00"/>
<rect x="484" y="646" width="3" height="23" fill="#00ff00"/>
<rect x="500" y="649" width="3" height="20" fill="#00ff00"/>
<rect x="516" y="646" width="3" height="23" fill="#00ff00"/>
<rect x="532" y="643" width="3" height="26" fill="#00ff00"/>
<rect x="548" y="641" width="3" height="28" fill="#00ff00"/>
<rect x="564" y="641" width="3" height="28" fill="#00ff00"/>
<rect x="580" y="641" width="3" height="28" fill="#00ff00"/>
<rect x="596" y="642" width="3" height="27" fill="#00ff00"/>
<rect x="612" y="642" width="3" height="27" fill="#00ff00"/>
<rect x="628" y="645" width="3" height="24" fill="#00ff00"/>
<rect x="644" y="645" width="3" height="24" fill="#00ff00"/>
<rect x="660" y="646" width="3" height="23" fill="#00ff00"/>
<rect x="676" y="645" width="3" height="24" fill="#00ff00"/>
<rect x="692" y="644" width="3" height="25" fill="#00ff00"/>
<rect x="708" y="646" width="3" height="23" fill="#00ff00"/>
<rect x="724" y="642" width="3" height="27" fill="#00ff00"/>
<rect x="740" y="637" width="3" height="32" fill="#00ff00"/>
<rect x="756" y="633" width="3" height="36" fill="#00ff00"/>
<rect x="772" y="633" width="3" height="36" fill="#00ff00"/>
<rect x="788" y="633" width="3" height="36" fill="#00ff00"/>
<rect x="804" y="633" width="3" height="36" fill="#00ff00"/>
<rect x="820" y="631" width="3" height="38" fill="#00ff00"/>
<rect x="836" y="633" width="3" height="36" fill="#00ff00"/>
<rect x="852" y="634" width="3" height="35" fill="#00ff00"/>
<rect x="868" y="635" width="3" height="34" fill="#00ff00"/>
<rect x="884" y="636" width="3" height="33" fill="#00ff00"/>
<rect x="900" y="637" width="3" height="32" fill="#00ff00"/>
<rect x="916" y="634" width="3" height="35" fill="#00ff00"/>
<rect x="932" y="630" width="3" height="39" fill="#00ff00"/>
<rect x="948" y="628" width="3" height="41" fill="#00ff00"/>
<rect x="964" y="627" width="3" height="42" fill="#00ff00"/>
<rect x="980" y="626" width="3" height="43" fill="#00ff00"/>
<rect x="996" y="625" width="3" height="44" fill="#00ff00"/>
<rect x="1012" y="623" width="3" height="46" fill="#00ff00"/>
<rect x="1028" y="621" width="3" height="48" fill="#00ff00"/>
<rect x="1044" y="620" width="3" height="49" fill="#00ff00"/>
<rect x="1060" y="619" width="3" height="50" fill="#00ff00"/>
<rect x="1076" y="619" width="3" height="50" fill="#00ff00"/>
<rect x="1092" y="621" width="3" height="48" fill="#00ff00"/>
<rect x="1108" y="622" width="3" height="47" fill="#00ff00"/>
<rect x="1124" y="617" width="3" height="52" fill="#00ff00"/>
<rect x="1140" y="614" width="3" height="55" fill="#00ff00"/>
<rect x="1156" y="614" width="3" height="55" fill="#00ff00"/>
<rect x="1172" y="615" width="3" height="54" fill="#00ff00"/>
<rect x="1188" y="618" width="3" height="51" fill="#00ff00"/>
<rect x="1204" y="622" width="3" height="47" fill="#00ff00"/>
<rect x="1220" y="630" width="3" height="39" fill="#00ff00"/>
<rect x="1236" y="637" width="3" height="32" fill="#00ff00"/>
<rect x="1252" y="644" width="3" height="25" fill="#00ff00"/>
<rect x="1268" y="652" width="3" height="17" fill="#00ff00"/>
<rect x="1284" y="658" width="3" height="11" fill="#00ff00"/>
<rect x="1300" y="664" width="3" height="5" fill="#00ff00"/>
<rect x="1316" y="669" width="3" height="2" fill="#00ff00"/>
<rect x="1332" y="669" width="3" height="6" fill="#00ff00"/>
<path d="M6 733.5H1612" stroke="#000" stroke-width="1" stroke-dasharray="3 3" fill="none"/>
<path d="M6 761.5H1612" stroke="#000" stroke-width="1" stroke-dasharray="3 3" fill="none"/>
<path d="M6 794.5H1612" stroke="#000" stroke-width="1" stroke-dasharray="3 3" fill="none"/>
<rect x="5" y="809" width="1" height="3" fill="#000"/>
<rect x="69" y="809" width="1" height="3" fill="#000"/>
<rect x="133" y="809" width="1" height="3" fill="#000"/>
<rect x="197" y="809" width="1" height="3" fill="#000"/>
<rect x="261" y="809" width="1" height="3" fill="#000"/>
<rect x="325" y="809" width="1" height="3" fill="#000"/>
<rect x="389" y="809" width="1" height="3" fill="#000"/>
<rect x="453" y="809" width="1" height="3" fill="#000"/>
<rect x="517" y="809" width="1" height="3" fill="#000"/>
<rect x="581" y="809" width="1" height="3" fill="#000"/>
<rect x="645" y="809" width="1" height="3" fill="#000"/>
<rect x="709" y="809" width="1" height="3" fill="#000"/>
<rect x="773" y="809" width="1" height="3" fill="#000"/>
<rect x="837" y="809" width="1" height="3" fill="#000"/>
<rect x="901" y="809" width="1" height="3" fill="#000"/>
<rect x="965" y="809" width="1" height="3" fill="#000"/>
<rect x="1029" y="809" width="1" height="3" fill="#000"/>
<rect x="1093" y="809" width="1" height="3" fill="#000"/>
<rect x="1157" y="809" width="1" height="3" fill="#000"/>
<rect x="1221" y="809" width="1" height="3" fill="#000"/>
<rect x="1285" y="809" width="1" height="3" fill="#000"/>
</g>
<polyline points="5,692.00 21,692.75 37,693.50 53,695.25 69,697.50 85,699.75 101,700.00 117,699.75 133,699.00 149,697.25 165,693.50 181,690.50 197,686.75 213,683.00 229,679.25 245,675.50 261,671.50 277,667.25 293,664.75 309,661.50 325,658.50 341,655.50 357,653.50 373,651.50 389,649.50 405,649.00 421,649.00 437,648.50 453,648.00 469,648.00 485,648.00 501,648.00 517,648.00 533,647.00 549,646.25 565,645.50 581,644.25 597,644.00 613,643.25 629,643.00 645,643.00 661,643.00 677,643.75 693,644.00 709,644.00 725,644.00 741,644.00 757,643.50 773,641.50 789,640.50 805,639.50 821,637.25 837,636.25 853,634.50 869,634.00 885,634.00 901,634.00 917,634.00 933,633.75 949,633.25 965,632.75 981,632.25 997,631.50 1013,629.75 1029,628.75 1045,627.00 1061,624.50 1077,623.75 1093,622.75 1109,622.00 1125,621.25 1141,620.50 1157,619.25 1173,618.50 1189,618.00 1205,618.25 1221,619.00 1237,621.00 1253,623.00 1269,627.75 1285,632.75 1301,638.50 1317,644.50 1333,650.00" fill="none" stroke="#ff0000" stroke-width="2" shape-rendering="crispEdges" stroke-linejoin="round"/>
<polyline points="5,778.00 21,775.25 37,773.75 53,773.75 69,777.00 85,760.50 101,759.50 117,761.50 133,761.50 149,757.00 165,758.00 181,756.25 197,755.75 213,754.00 229,752.75 245,755.75 261,749.00 277,752.50 293,752.50 309,751.50 325,752.50 341,748.00 357,750.00 373,758.75 389,758.75 405,758.25 421,757.50 437,751.00 453,750.00 469,750.00 485,753.75 501,753.75 517,751.00 533,747.00 549,747.00 565,748.25 581,751.75 597,751.75 613,749.00 629,760.00 645,752.75 661,752.75 677,751.00 693,750.75 709,754.00 725,745.00 741,742.25 757,742.00 773,747.75 789,749.75 805,748.60 821,744.75 837,751.75 853,751.75 869,750.25 885,750.00 901,750.00 917,742.00 933,742.00 949,743.00 965,742.50 981,741.50 997,741.00 1013,737.00 1029,736.75 1045,737.75 1061,737.75 1077,738.00 1093,740.75 1109,739.75 1125,732.90 1141,734.40 1157,738.40 1173,740.25 1189,741.00 1205,754.60 1221,761.75 1237,762.25 1253,768.00 1269,769.75 1285,769.75 1301,771.50 1317,772.75 1333,772.75" fill="none" stroke="#1e90ff" stroke-width="2" shape-rendering="crispEdges" stroke-linejoin="round"/>
<g fill="#4e9a2a" stroke="none"><path d="M1283.3 139 L1349 178.2" stroke="#4e9a2a" stroke-width="3.2" stroke-linecap="butt"/><path d="M1351.9 170.1L1362.3 186.5L1342.7 184.8z"/></g>
<path d="M8 32h7v1h-1v1h-1v1h-1v1h-1v-1h-1v-1h-1v-1h-1z" fill="#000" shape-rendering="crispEdges"/>
<text x="20.3" y="37" textLength="42.5" lengthAdjust="spacingAndGlyphs">UKOil-,H4</text>
<text x="69.2" y="37" textLength="27.4" lengthAdjust="spacingAndGlyphs">78.425</text>
<text x="100.3" y="37" textLength="27.4" lengthAdjust="spacingAndGlyphs">78.491</text>
<text x="131.1" y="37" textLength="27.4" lengthAdjust="spacingAndGlyphs">78.380</text>
<text x="162.2" y="37" textLength="27.4" lengthAdjust="spacingAndGlyphs">78.421</text>
<text x="1618" y="46" textLength="28.2" lengthAdjust="spacingAndGlyphs">81.925</text>
<text x="1618" y="79" textLength="28.2" lengthAdjust="spacingAndGlyphs">81.310</text>
<text x="1618" y="112" textLength="28.2" lengthAdjust="spacingAndGlyphs">80.680</text>
<text x="1618" y="244" textLength="28.2" lengthAdjust="spacingAndGlyphs">78.190</text>
<text x="1618" y="277" textLength="28.2" lengthAdjust="spacingAndGlyphs">77.560</text>
<text x="1618" y="310" textLength="28.2" lengthAdjust="spacingAndGlyphs">76.945</text>
<text x="1618" y="343" textLength="28.2" lengthAdjust="spacingAndGlyphs">76.315</text>
<text x="1618" y="376" textLength="28.2" lengthAdjust="spacingAndGlyphs">75.700</text>
<text x="1618" y="409" textLength="28.2" lengthAdjust="spacingAndGlyphs">75.070</text>
<text x="1618" y="442" textLength="28.2" lengthAdjust="spacingAndGlyphs">74.455</text>
<text x="1618" y="475" textLength="28.2" lengthAdjust="spacingAndGlyphs">73.825</text>
<text x="1618" y="508" textLength="28.2" lengthAdjust="spacingAndGlyphs">73.210</text>
<text x="1618" y="541" textLength="28.2" lengthAdjust="spacingAndGlyphs">72.580</text>
<text x="1618" y="574" textLength="28.2" lengthAdjust="spacingAndGlyphs">71.965</text>
<text x="1618" y="607" textLength="28.2" lengthAdjust="spacingAndGlyphs">71.335</text>
<text x="1618" y="144" class="w" textLength="28.2" lengthAdjust="spacingAndGlyphs">80.053</text>
<text x="1618" y="176" class="w" textLength="28.2" lengthAdjust="spacingAndGlyphs">79.450</text>
<text x="1618" y="210" class="w" textLength="28.2" lengthAdjust="spacingAndGlyphs">78.809</text>
<text x="1618" y="232" class="w" textLength="28.2" lengthAdjust="spacingAndGlyphs">78.421</text>
<text x="1618" y="262" class="w" textLength="28.2" lengthAdjust="spacingAndGlyphs">77.829</text>
<text x="1618" y="290" class="w" textLength="28.2" lengthAdjust="spacingAndGlyphs">77.302</text>
<text x="9.3" y="621" textLength="130.7" lengthAdjust="spacingAndGlyphs">MACD(12,26,9) -0.0956 0.3464</text>
<text x="9.2" y="726" textLength="67.8" lengthAdjust="spacingAndGlyphs">RSI(14) 37.2868</text>
<text x="1616.3" y="619" textLength="27.2" lengthAdjust="spacingAndGlyphs">1.0967</text>
<text x="1616.3" y="673" textLength="17.6" lengthAdjust="spacingAndGlyphs">0.00</text>
<text x="1615.7" y="708" textLength="31" lengthAdjust="spacingAndGlyphs">-0.7625</text>
<text x="1616.1" y="724" textLength="14.7" lengthAdjust="spacingAndGlyphs">100</text>
<text x="1614.9" y="737" textLength="10.1" lengthAdjust="spacingAndGlyphs">80</text>
<text x="1614.9" y="765" textLength="10.1" lengthAdjust="spacingAndGlyphs">50</text>
<text x="1614.9" y="797.7" textLength="10.1" lengthAdjust="spacingAndGlyphs">15</text>
<text x="1614.9" y="805" textLength="5" lengthAdjust="spacingAndGlyphs">0</text>
<text x="4.2" y="821" textLength="49.6" lengthAdjust="spacingAndGlyphs">27 Jun 2023</text>
<text x="68.2" y="821" textLength="52.7" lengthAdjust="spacingAndGlyphs">28 Jun 08:00</text>
<text x="132.2" y="821" textLength="52.7" lengthAdjust="spacingAndGlyphs">29 Jun 04:00</text>
<text x="196.2" y="821" textLength="52.7" lengthAdjust="spacingAndGlyphs">29 Jun 20:00</text>
<text x="260.2" y="821" textLength="52.7" lengthAdjust="spacingAndGlyphs">30 Jun 12:00</text>
<text x="324.2" y="821" textLength="44.4" lengthAdjust="spacingAndGlyphs">3 Jul 04:00</text>
<text x="388.2" y="821" textLength="44.4" lengthAdjust="spacingAndGlyphs">3 Jul 20:00</text>
<text x="452.2" y="821" textLength="44.4" lengthAdjust="spacingAndGlyphs">4 Jul 12:00</text>
<text x="516.2" y="821" textLength="44.4" lengthAdjust="spacingAndGlyphs">5 Jul 08:00</text>
<text x="580.2" y="821" textLength="44.4" lengthAdjust="spacingAndGlyphs">6 Jul 00:00</text>
<text x="644.2" y="821" textLength="44.4" lengthAdjust="spacingAndGlyphs">6 Jul 16:00</text>
<text x="708.2" y="821" textLength="44.4" lengthAdjust="spacingAndGlyphs">7 Jul 08:00</text>
<text x="772.2" y="821" textLength="49.5" lengthAdjust="spacingAndGlyphs">10 Jul 00:00</text>
<text x="836.2" y="821" textLength="49.5" lengthAdjust="spacingAndGlyphs">10 Jul 16:00</text>
<text x="900.2" y="821" textLength="49.5" lengthAdjust="spacingAndGlyphs">11 Jul 08:00</text>
<text x="964.2" y="821" textLength="49.5" lengthAdjust="spacingAndGlyphs">12 Jul 00:00</text>
<text x="1028.2" y="821" textLength="49.5" lengthAdjust="spacingAndGlyphs">12 Jul 16:00</text>
<text x="1092.2" y="821" textLength="49.5" lengthAdjust="spacingAndGlyphs">13 Jul 08:00</text>
<text x="1156.2" y="821" textLength="49.5" lengthAdjust="spacingAndGlyphs">14 Jul 00:00</text>
<text x="1220.2" y="821" textLength="49.5" lengthAdjust="spacingAndGlyphs">14 Jul 16:00</text>
<text x="1284.2" y="821" textLength="49.5" lengthAdjust="spacingAndGlyphs">17 Jul 08:00</text>
</svg>
</body></html>
